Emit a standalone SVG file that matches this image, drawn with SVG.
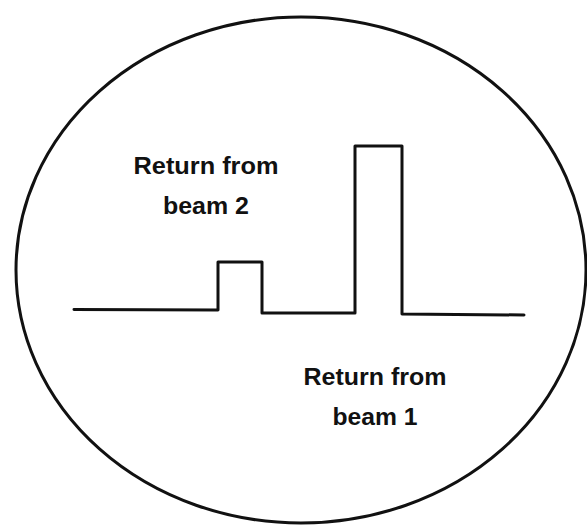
<svg xmlns="http://www.w3.org/2000/svg" width="587" height="526" viewBox="0 0 587 526">
<style>
.ln{fill:none;stroke:#111;stroke-width:3;stroke-linejoin:round;stroke-linecap:round}
.lbl{font-family:"Liberation Sans",Arial,sans-serif;font-weight:bold;font-size:23px;fill:#111;text-anchor:middle}
</style>
<rect width="587" height="526" fill="#fff"/>
<g id="scope">
<ellipse class="ln" cx="301" cy="270" rx="285" ry="253"/>
</g>
<g id="connectors">
<path class="ln" d="M74,309.5 L218,310 L218,262 L262,262 L262,313 L355,313 L355,146 L402,146 L402,314 L524,315"/>
</g>
<g id="label-beam2">
<text class="lbl" x="206" y="174" textLength="145" lengthAdjust="spacingAndGlyphs">Return from</text>
<text class="lbl" x="206" y="214" textLength="86" lengthAdjust="spacingAndGlyphs">beam 2</text>
</g>
<g id="label-beam1">
<text class="lbl" x="375" y="385" textLength="143" lengthAdjust="spacingAndGlyphs">Return from</text>
<text class="lbl" x="375" y="425" textLength="85" lengthAdjust="spacingAndGlyphs">beam 1</text>
</g>
</svg>
